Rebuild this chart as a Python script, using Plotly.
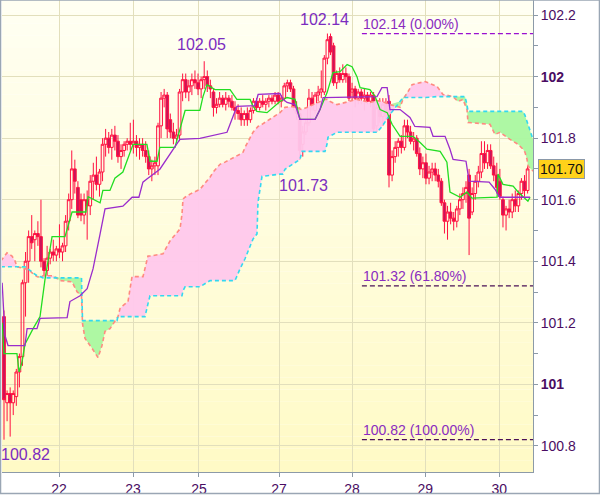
import plotly.graph_objects as go
import numpy as np

# ---------------- data ----------------
opens = [101.22,100.94,100.97,100.94,100.96,101.04,101.09,101.33,101.40,101.48,
         101.47,101.49,101.48,101.40,101.37,101.41,101.43,101.42,101.44,101.43,
         101.45,101.53,101.60,101.70,101.64,101.60,101.55,101.60,101.58,101.66,
         101.68,101.65,101.69,101.78,101.80,101.77,101.81,101.79,101.74,101.76,
         101.78,101.79,101.78,101.79,101.77,101.78,101.76,101.74,101.70,101.71,
         101.71,101.84,101.93,101.94,101.86,101.82,101.80,101.81,101.95,101.99,
         101.95,101.97,101.99,101.98,101.96,101.99,102.00,101.97,101.95,101.90,
         101.91,101.93,101.91,101.93,101.92,101.90,101.89,101.88,101.86,101.88,
         101.86,101.89,101.92,101.90,101.92,101.91,101.92,101.93,101.92,101.94,
         101.92,101.93,101.97,101.98,101.96,101.90,101.88,101.78,101.82,101.85,
         101.93,101.89,101.94,101.95,101.95,102.06,102.13,102.10,101.98,102.01,
         101.99,102.01,102.00,101.95,101.96,101.93,101.95,101.93,101.94,101.92,
         101.94,101.84,101.90,101.87,101.91,101.92,101.68,101.74,101.77,101.79,
         101.77,101.84,101.82,101.79,101.80,101.75,101.70,101.72,101.67,101.69,
         101.70,101.68,101.66,101.59,101.53,101.56,101.54,101.53,101.57,101.60,
         101.62,101.68,101.56,101.62,101.66,101.69,101.75,101.72,101.76,101.71,
         101.68,101.66,101.60,101.55,101.57,101.56,101.60,101.58,101.62,101.66,
         101.63]
highs = [101.24,100.98,100.99,100.98,101.05,101.10,101.34,101.43,101.50,101.55,
         101.50,101.53,101.60,101.41,101.45,101.44,101.47,101.45,101.52,101.46,
         101.55,101.62,101.76,101.73,101.66,101.62,101.62,101.63,101.68,101.72,
         101.74,101.70,101.80,101.83,101.82,101.83,101.84,101.81,101.78,101.79,
         101.80,101.85,101.86,101.81,101.80,101.80,101.79,101.76,101.73,101.74,
         101.85,101.95,101.96,101.95,101.88,101.85,101.83,101.96,102.01,102.01,
         101.99,102.01,102.02,102.01,102.00,102.05,102.02,101.99,101.96,101.93,
         101.95,101.94,101.95,101.94,101.94,101.92,101.91,101.90,101.89,101.90,
         101.90,101.93,101.93,101.93,101.94,101.93,101.94,101.94,101.95,101.95,
         101.94,101.98,101.99,101.99,101.97,101.92,101.90,101.84,101.86,101.96,
         101.95,101.95,101.97,102.02,102.07,102.14,102.14,102.11,102.02,102.03,
         102.04,102.03,102.01,101.98,101.97,101.96,101.96,101.96,101.95,101.95,
         101.95,101.92,101.93,101.93,101.93,101.94,101.76,101.79,101.80,101.81,
         101.86,101.86,101.84,101.82,101.81,101.77,101.74,101.75,101.71,101.72,
         101.72,101.70,101.67,101.60,101.58,101.59,101.56,101.58,101.62,101.64,
         101.66,101.70,101.64,101.68,101.71,101.79,101.79,101.78,101.78,101.74,
         101.72,101.70,101.61,101.58,101.60,101.62,101.63,101.63,101.67,101.68,
         101.71]
lows = [100.82,100.88,100.83,100.90,100.93,100.99,101.06,101.22,101.33,101.44,
        101.40,101.45,101.38,101.35,101.35,101.39,101.40,101.40,101.41,101.40,
        101.43,101.50,101.57,101.62,101.54,101.53,101.52,101.47,101.55,101.60,
        101.63,101.61,101.66,101.74,101.75,101.73,101.76,101.72,101.70,101.74,
        101.76,101.76,101.75,101.74,101.73,101.74,101.72,101.68,101.66,101.68,
        101.68,101.80,101.90,101.80,101.80,101.78,101.79,101.79,101.92,101.93,
        101.92,101.94,101.96,101.94,101.93,101.96,101.95,101.93,101.87,101.88,
        101.90,101.90,101.89,101.90,101.89,101.86,101.86,101.84,101.84,101.84,
        101.85,101.88,101.89,101.89,101.90,101.89,101.90,101.91,101.91,101.91,
        101.90,101.92,101.95,101.95,101.89,101.86,101.73,101.74,101.81,101.84,
        101.89,101.88,101.92,101.93,101.94,102.04,102.07,101.97,101.96,101.98,
        101.98,101.98,101.92,101.92,101.90,101.91,101.91,101.89,101.91,101.90,
        101.82,101.82,101.85,101.84,101.86,101.64,101.66,101.72,101.74,101.75,
        101.76,101.80,101.78,101.76,101.74,101.68,101.67,101.65,101.65,101.66,
        101.66,101.64,101.58,101.49,101.47,101.52,101.50,101.51,101.55,101.57,
        101.59,101.42,101.55,101.60,101.64,101.67,101.70,101.70,101.70,101.66,
        101.62,101.60,101.51,101.50,101.54,101.54,101.56,101.56,101.60,101.61,
        101.62]
closes = [100.95,100.97,100.94,100.97,101.04,101.09,101.33,101.40,101.48,101.46,
          101.49,101.48,101.40,101.37,101.41,101.43,101.42,101.44,101.43,101.45,
          101.53,101.60,101.70,101.66,101.55,101.55,101.60,101.58,101.66,101.68,
          101.65,101.69,101.78,101.80,101.77,101.81,101.79,101.74,101.76,101.78,
          101.79,101.78,101.79,101.77,101.78,101.76,101.74,101.70,101.71,101.72,
          101.84,101.93,101.94,101.83,101.82,101.80,101.81,101.95,101.99,101.95,
          101.97,101.99,101.98,101.96,101.99,102.00,101.97,101.96,101.90,101.91,
          101.93,101.91,101.93,101.92,101.90,101.89,101.88,101.86,101.88,101.86,
          101.89,101.92,101.90,101.92,101.91,101.92,101.93,101.92,101.94,101.92,
          101.93,101.97,101.98,101.96,101.90,101.88,101.76,101.82,101.85,101.93,
          101.91,101.94,101.95,101.96,102.06,102.12,102.08,101.98,102.01,101.99,
          102.01,102.00,101.93,101.96,101.93,101.95,101.93,101.94,101.92,101.94,
          101.83,101.90,101.87,101.91,101.88,101.68,101.74,101.77,101.79,101.77,
          101.84,101.82,101.79,101.80,101.75,101.70,101.72,101.67,101.69,101.70,
          101.68,101.66,101.59,101.53,101.56,101.54,101.53,101.57,101.60,101.62,
          101.64,101.54,101.62,101.66,101.69,101.75,101.72,101.76,101.71,101.68,
          101.64,101.61,101.55,101.57,101.56,101.60,101.58,101.62,101.66,101.63,
          101.70]
bars = list(range(len(closes)))

# Tenkan-sen (conversion line), read at its break points
tenkan_x = [-0.6,0,4.2,4.9,5.8,6.8,9.4,11.7,13.3,14.9,15.6,19.8,21.4,22.1,26.6,27.3,31.2,32.1,
            34.4,36.0,38.6,41.9,46.4,47.4,49.7,50.6,55.5,58.8,63.6,64.6,65.9,67.5,68.5,73.4,
            74.4,75.6,79.9,80.9,82.1,85.4,89.6,91.9,94.5,95.5,96.1,101.0,102.6,104.9,106.8,
            109.1,111.4,113.0,114.6,115.6,118.8,120.5,122.1,124.4,126.0,128.6,132.8,135.1,
            137.3,141.6,143.8,144.8,148.1,150.3,151.9,160.1,160.4,162.0,165.3,166.9,169.2,
            170.1,170.8]
tenkan_y = [101.20,101.10,101.10,101.04,101.07,101.13,101.18,101.22,101.34,101.44,101.48,101.48,
            101.54,101.56,101.56,101.61,101.59,101.63,101.63,101.67,101.69,101.78,101.78,101.725,
            101.725,101.77,101.77,101.89,101.89,101.935,101.974,101.964,101.958,101.958,101.942,
            101.926,101.926,101.903,101.887,101.883,101.919,101.932,101.926,101.883,101.861,
            101.861,101.893,101.948,102.013,102.016,102.039,102.032,102.0,101.964,101.958,
            101.935,101.893,101.883,101.845,101.806,101.806,101.786,101.764,101.757,101.722,
            101.625,101.608,101.625,101.605,101.608,101.683,101.650,101.644,101.625,101.602,
            101.595,101.608]

# Kijun-sen (base line)
kijun_x = [-0.6,0.3,1.3,6.8,7.5,10.7,11.7,20.5,21.4,24.7,27.0,28.9,31.2,32.8,38.6,39.9,41.6,
           43.8,45.1,46.4,50.6,57.1,63.6,72.4,74.4,75.6,81.5,82.5,89.6,90.6,91.9,94.5,96.1,
           101.0,102.6,103.6,121.1,122.7,124.4,125.3,128.6,131.8,133.4,138.3,139.3,143.2,
           144.8,145.8,150.0,151.0,157.5,159.4,161.0,170.8]
kijun_y = [101.33,101.16,101.126,101.126,101.181,101.181,101.214,101.217,101.269,101.288,
           101.311,101.375,101.489,101.570,101.579,101.592,101.608,101.608,101.657,101.667,
           101.699,101.796,101.799,101.819,101.871,101.903,101.906,101.942,101.945,101.926,
           101.916,101.909,101.861,101.861,101.893,101.932,101.935,101.964,101.964,101.893,
           101.893,101.867,101.838,101.835,101.806,101.806,101.764,101.731,101.725,101.660,
           101.657,101.634,101.608,101.608]

# Kumo: Senkou span A / B at shared break points
cloud_x = [-1.0,0.97,2.60,3.57,4.22,6.82,7.79,9.42,10.71,11.69,12.66,15.91,18.18,22.08,23.70,
           25.16,25.49,26.30,28.57,30.52,31.82,32.79,34.42,36.04,36.69,37.01,37.66,38.64,
           40.26,41.56,45.13,45.78,46.75,47.40,51.62,53.90,57.14,57.79,58.12,58.77,60.39,
           63.64,66.88,67.86,70.13,71.75,75.00,76.62,77.60,78.25,80.84,82.14,82.47,83.77,
           89.61,90.58,91.23,93.51,96.10,96.75,101.95,104.22,104.87,105.19,108.12,112.34,
           114.61,118.83,121.10,122.73,125.32,128.57,129.55,131.17,132.47,136.69,140.58,
           142.53,145.78,147.40,149.03,149.68,150.32,150.65,157.79,159.42,161.04,164.29,
           166.88,168.51,169.16,169.81,170.13,171.75]
span_a = [101.401,101.427,101.417,101.401,101.382,101.375,101.375,101.359,101.350,101.346,
          101.353,101.353,101.337,101.333,101.301,101.288,101.197,101.149,101.117,101.087,
          101.126,101.172,101.181,101.204,101.214,101.220,101.246,101.256,101.269,101.350,
          101.350,101.375,101.417,101.417,101.424,101.466,101.505,101.553,101.602,101.608,
          101.618,101.634,101.673,101.689,101.715,101.722,101.738,101.748,101.754,101.770,
          101.819,101.835,101.838,101.845,101.883,101.893,101.900,101.903,101.893,101.893,
          101.916,101.926,101.926,101.922,101.909,101.919,101.926,101.916,101.922,101.919,
          101.909,101.900,101.926,101.951,101.974,101.984,101.968,101.942,101.935,101.919,
          101.926,101.909,101.893,101.851,101.845,101.812,101.819,101.796,101.780,101.764,
          101.754,101.731,101.709,101.693]
span_b = [101.382,101.382,101.382,101.382,101.382,101.382,101.375,101.362,101.353,101.350,
          101.346,101.346,101.346,101.346,101.346,101.346,101.207,101.207,101.207,101.207,
          101.207,101.207,101.207,101.207,101.207,101.220,101.220,101.220,101.220,101.220,
          101.220,101.220,101.262,101.288,101.288,101.288,101.288,101.288,101.304,101.317,
          101.317,101.317,101.337,101.337,101.337,101.337,101.337,101.375,101.392,101.408,
          101.472,101.489,101.592,101.676,101.683,101.683,101.699,101.715,101.731,101.757,
          101.757,101.757,101.780,101.803,101.819,101.819,101.819,101.819,101.819,101.838,
          101.877,101.919,101.932,101.932,101.932,101.932,101.935,101.935,101.935,101.935,
          101.935,101.935,101.909,101.887,101.887,101.887,101.887,101.887,101.887,101.887,
          101.874,101.854,101.845,101.796]

# Labels
day_ticks = [17.86, 41.9, 63.3, 89.3, 113.0, 136.8, 160.8]
day_labels = ["22", "23", "25", "27", "28", "29", "30"]
price_ticks = [100.8, 101.0, 101.2, 101.4, 101.6, 101.8, 102.0, 102.2]
price_labels = ["100.8", "<b>101</b>", "101.2", "101.4", "101.6", "101.8", "<b>102</b>", "102.2"]
minor_ticks = [100.9, 101.1, 101.3, 101.5, 101.7, 101.9, 102.1]

swing_bars = [65, 105, 96, 0]
swing_vals = [102.05, 102.14, 101.73, 100.82]
swing_text = ["102.05", "102.14", "101.73", "100.82"]

fib_start = 116.2
fib_vals = [102.14, 101.32, 100.82]
fib_text = ["102.14 (0.00%)", "101.32 (61.80%)", "100.82 (100.00%)"]
last_price = 101.70

X_MIN, X_MAX = -0.65, 171.75
Y_MIN, Y_MAX = 100.715, 102.249

# ---------------- figure ----------------
fig = go.Figure()

a = np.array(span_a)
b = np.array(span_b)
upper = np.maximum(a, b)

# pink where A above B
fig.add_trace(go.Scatter(x=cloud_x, y=span_b, mode="lines", line=dict(width=0), hoverinfo="skip"))
fig.add_trace(go.Scatter(x=cloud_x, y=upper, mode="lines", line=dict(width=0), fill="tonexty",
                         fillcolor="rgba(255,200,236,0.95)", hoverinfo="skip"))
# green where B above A
fig.add_trace(go.Scatter(x=cloud_x, y=span_a, mode="lines", line=dict(width=0), hoverinfo="skip"))
fig.add_trace(go.Scatter(x=cloud_x, y=upper, mode="lines", line=dict(width=0), fill="tonexty",
                         fillcolor="rgba(170,248,160,0.95)", hoverinfo="skip"))
# cloud borders
fig.add_trace(go.Scatter(x=cloud_x, y=span_a, mode="lines",
                         line=dict(color="#ff8a80", width=1.6, dash="4px,3px")))
fig.add_trace(go.Scatter(x=cloud_x, y=span_b, mode="lines",
                         line=dict(color="#33d8f0", width=1.6, dash="4px,3px")))

# candles
fig.add_trace(go.Candlestick(
    x=bars, open=opens, high=highs, low=lows, close=closes,
    increasing=dict(line=dict(color="#ff1040", width=1), fillcolor="rgba(0,0,0,0)"),
    decreasing=dict(line=dict(color="#ff1040", width=1), fillcolor="#c8145a"),
    whiskerwidth=0, hoverinfo="skip"))

# tenkan / kijun
fig.add_trace(go.Scatter(x=tenkan_x, y=tenkan_y, mode="lines", line=dict(color="#22dd22", width=1.3)))
fig.add_trace(go.Scatter(x=kijun_x, y=kijun_y, mode="lines", line=dict(color="#9a2ccc", width=1.3)))

# fibonacci lines
fib_colors = ["#9a10d0", "#4a1058", "#4a1058"]
for v, c in zip(fib_vals, fib_colors):
    fig.add_trace(go.Scatter(x=[fib_start, X_MAX], y=[v, v], mode="lines",
                             line=dict(color=c, width=1.2, dash="5px,3px")))

annotations = []
label_font = dict(family="Liberation Sans, Arial, sans-serif", size=16, color="#7b2cbf")
# swing high / low labels
annotations.append(dict(x=swing_bars[0], y=swing_vals[0], text=swing_text[0], showarrow=False,
                        xanchor="center", yanchor="bottom", yshift=6, xshift=-3, font=label_font))
annotations.append(dict(x=swing_bars[1], y=swing_vals[1], text=swing_text[1], showarrow=False,
                        xanchor="center", yanchor="bottom", yshift=4, xshift=-3, font=label_font))
annotations.append(dict(x=swing_bars[2], y=swing_vals[2], text=swing_text[2], showarrow=False,
                        xanchor="center", yanchor="top", yshift=-15, xshift=4, font=label_font))
annotations.append(dict(x=swing_bars[3], y=swing_vals[3], text=swing_text[3], showarrow=False,
                        xanchor="left", yanchor="top", yshift=-4, xshift=-5, font=label_font))
for v, t in zip(fib_vals, fib_text):
    annotations.append(dict(x=fib_start, y=v, text=t, showarrow=False, xanchor="left",
                            yanchor="bottom", yshift=0, xshift=-1,
                            font=dict(family="Liberation Sans, Arial, sans-serif", size=14, color="#8a2cc0")))
# last price tag
annotations.append(dict(xref="paper", x=1.0094, y=last_price, text=f"{last_price:.2f}", showarrow=False,
                        xanchor="left", yanchor="middle", bgcolor="#ffd21a", bordercolor="#8a98a8",
                        borderwidth=1, borderpad=1,
                        font=dict(family="Liberation Sans, Arial, sans-serif", size=14, color="#111111")))

# background gradient of the plot area
shapes = []
n = 40
for k in range(n):
    t = k / (n - 1)
    r = 255
    g = int(round(255 - 5 * t))
    bb = int(round(242 - 44 * t))
    shapes.append(dict(type="rect", xref="paper", yref="paper", x0=0, x1=1,
                       y0=1 - (k + 1) / n, y1=1 - k / n, fillcolor=f"rgb({r},{g},{bb})",
                       line=dict(width=0), layer="below"))
# outer frame
shapes.append(dict(type="rect", xref="paper", yref="paper", x0=-0.0028, x1=1.1252,
                   y0=-0.0454, y1=1.0, line=dict(color="#9aa6b4", width=1.5),
                   fillcolor="rgba(0,0,0,0)", layer="above"))

tick_font = dict(family="Liberation Sans, Arial, sans-serif", size=14, color="#4a0d63")
fig.update_layout(
    width=600, height=497,
    margin=dict(l=2, r=67, t=0, b=23),
    paper_bgcolor="white", plot_bgcolor="rgba(0,0,0,0)",
    showlegend=False,
    boxgap=0.12, boxgroupgap=0,
    annotations=annotations, shapes=shapes,
    xaxis=dict(range=[X_MIN, X_MAX], tickmode="array", tickvals=day_ticks, ticktext=day_labels,
               showgrid=True, gridcolor="#e2dfbc", gridwidth=1, zeroline=False,
               ticks="outside", ticklen=4, tickcolor="#8c9aa8", showline=True,
               linecolor="#8c9aa8", linewidth=1, rangeslider=dict(visible=False),
               tickfont=tick_font, fixedrange=True),
    yaxis=dict(side="right", range=[Y_MIN, Y_MAX], tickmode="array", tickvals=price_ticks,
               ticktext=price_labels, showgrid=True, gridcolor="#e2dfbc", gridwidth=1,
               zeroline=False, ticks="outside", ticklen=4, tickcolor="#8c9aa8",
               showline=True, linecolor="#8c9aa8", linewidth=1, tickfont=tick_font,
               minor=dict(tickmode="array", tickvals=minor_ticks, ticks="outside", ticklen=4,
                          tickcolor="#8c9aa8", showgrid=False)),
)

fig.write_html("out.html", config={"displayModeBar": False},
               post_script="document.body.style.margin='0';document.body.style.padding='0';"
                           "document.documentElement.style.overflow='hidden';")
